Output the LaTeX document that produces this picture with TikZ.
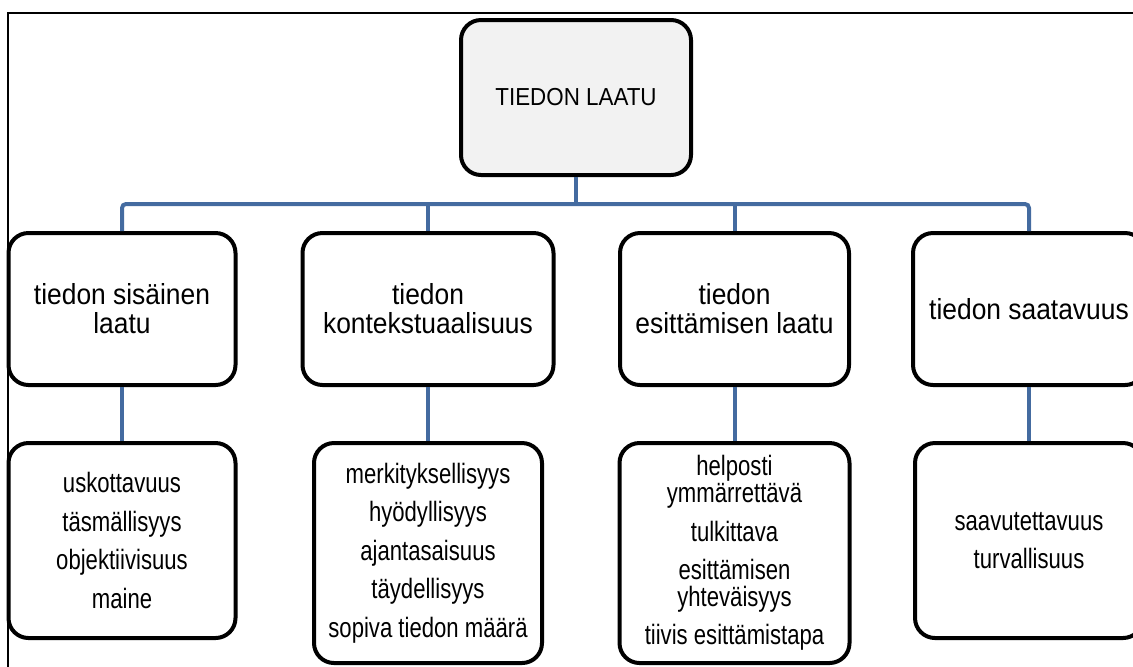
\documentclass[tikz,border=0pt]{standalone}
\usepackage{fontspec}
\setmainfont{Liberation Sans}
\newfontfamily\catfont[FakeStretch=0.91]{Liberation Sans}
\newfontfamily\itemfont[FakeStretch=0.79]{Liberation Sans}
\definecolor{linkblue}{RGB}{68,107,160}
\definecolor{topgray}{RGB}{242,242,242}
\tikzset{
  box/.style={draw=black, line width=2pt, rounded corners=10pt, fill=white,
    align=center, inner sep=2pt},
  topbox/.style={box, fill=topgray, minimum width=115pt, minimum height=77.5pt,
    font=\catfont\fontsize{12.3}{14}\selectfont},
  catbox/.style={box, minimum width=#1, minimum height=76pt,
    font=\catfont\fontsize{14.5}{14.5}\selectfont},
  itembox/.style 2 args={box, minimum width=#1, minimum height=#2,
    font=\itemfont\fontsize{14}{13.5}\selectfont},
  link/.style={draw=linkblue, line width=2pt, rounded corners=2pt},
  frame/.style={draw=black, line width=0.75pt}
}
\begin{document}
\begin{tikzpicture}[x=0.5pt, y=-0.5pt]
      \useasboundingbox (0,0) rectangle (1133,666);
      \clip (0,0) rectangle (1133,666);
      \draw[frame] (8,700) |- (1160,13);
      \coordinate (bus) at (576,204);
      \draw
        (576,97.5) node[topbox] (top){TIEDON LAATU}
        (122,309) node[catbox=113.5pt] (c1){tiedon sisäinen\\laatu}
        (428,309) node[catbox=125.5pt] (c2){tiedon\\kontekstuaalisuus}
        (734.5,309) node[catbox=114.5pt] (c3){tiedon\\esittämisen laatu}
        (1029,309) node[catbox=116pt] (c4){tiedon saatavuus}
        (122,540.5) node[itembox={113.5pt}{97.5pt}] (i1){uskottavuus\\[5.7pt]täsmällisyys\\[5.7pt]objektiivisuus\\[5.7pt]maine}
        (428,553) node[itembox={114pt}{110pt}] (i2){merkityksellisyys\\[5.7pt]hyödyllisyys\\[5.7pt]ajantasaisuus\\[5.7pt]täydellisyys\\[5.7pt]sopiva tiedon määrä}
        (734.5,553) node[itembox={115pt}{110pt}] (i3){helposti\\ymmärrettävä\\[5.7pt]tulkittava\\[5.7pt]esittämisen\\yhteväisyys\\[5.7pt]tiivis esittämistapa}
        (1029,540.5) node[itembox={114pt}{97.5pt}] (i4){saavutettavuus\\[5.7pt]turvallisuus};
      \begin{scope}[-]
        \draw[link] (c1.north) |- (bus) -| (c4.north);
        \draw[link] (c2.north) -- (c2.north |- bus);
        \draw[link] (c3.north) -- (c3.north |- bus);
        \draw[link] (top.south) -- (bus);
        \draw[link] (c1) to (i1);
        \draw[link] (c2) to (i2);
        \draw[link] (c3) to (i3);
        \draw[link] (c4) to (i4);
      \end{scope}
    \end{tikzpicture}
\end{document}
